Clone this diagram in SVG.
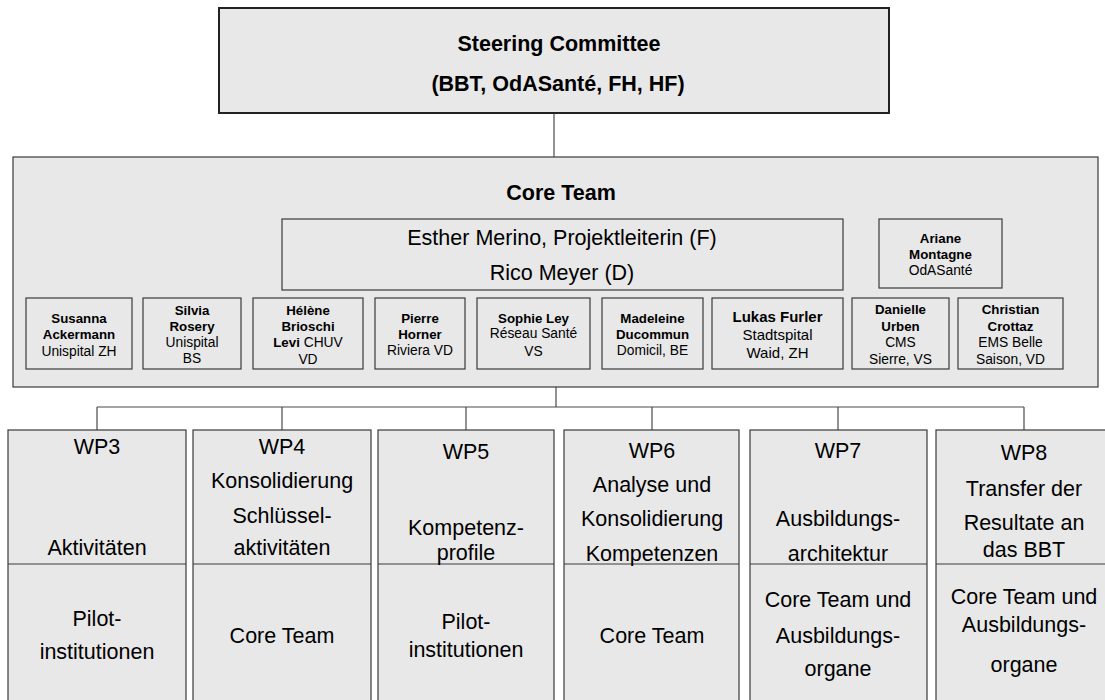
<svg xmlns="http://www.w3.org/2000/svg" width="1105" height="700" viewBox="0 0 1105 700">
<style>
  .box { fill: #e8e8e8; stroke: #3a3a3a; stroke-width: 1.2; }
  .top { fill: #e8e8e8; stroke: #222; stroke-width: 2; }
  .div { stroke: #3a3a3a; stroke-width: 1.2; fill: none; }
  .con { stroke: #4a4a4a; stroke-width: 1.2; fill: none; }
  text { font-family: "Liberation Sans", Arial, sans-serif; fill: #000; text-anchor: middle; }
  .big { font-size: 21.5px; }
  .bigb { font-size: 21.5px; font-weight: bold; }
  .sm { font-size: 13.8px; }
  .smb { font-size: 13.3px; font-weight: bold; }
  .b { font-weight: bold; }
</style>
<rect width="1105" height="700" fill="#ffffff"/>
<g id="connectors">
  <path class="con" d="M554 113 V157"/>
  <path class="con" d="M556 387 V407"/>
  <path class="con" d="M97 407 H1024"/>
  <path class="con" d="M97 407 V430 M282 407 V430 M466 407 V430 M652 407 V430 M838 407 V430 M1024 407 V430"/>
</g>
<g id="steering">
  <rect class="top" x="219" y="8" width="670" height="105"/>
  <text class="bigb" x="559" y="51">Steering Committee</text>
  <text class="bigb" x="558" y="91">(BBT, OdASanté, FH, HF)</text>
</g>
<g id="core-team">
  <rect class="box" x="13" y="157" width="1085" height="230"/>
  <text class="bigb" x="561" y="200">Core Team</text>
</g>
<g id="leitung">
  <rect class="box" x="282" y="219" width="561" height="71"/>
  <text class="big" x="562" y="245">Esther Merino, Projektleiterin (F)</text>
  <text class="big" x="562" y="280">Rico Meyer (D)</text>
</g>
<g id="ariane">
  <rect class="box" x="879" y="219" width="123" height="69"/>
  <text class="smb" x="940.5" y="243">Ariane</text>
  <text class="smb" x="940.5" y="259">Montagne</text>
  <text class="sm" x="940.5" y="275">OdASanté</text>
</g>
<g id="susanna">
  <rect class="box" x="26" y="298" width="106" height="71"/>
  <text class="smb" x="79" y="323">Susanna</text>
  <text class="smb" x="79" y="339">Ackermann</text>
  <text class="sm" x="79" y="356">Unispital ZH</text>
</g>
<g id="silvia">
  <rect class="box" x="143" y="298" width="98" height="71"/>
  <text class="smb" x="192" y="315">Silvia</text>
  <text class="smb" x="192" y="331">Rosery</text>
  <text class="sm" x="192" y="347">Unispital</text>
  <text class="sm" x="192" y="363">BS</text>
</g>
<g id="helene">
  <rect class="box" x="253" y="298" width="110" height="71"/>
  <text class="smb" x="308" y="315">Hélène</text>
  <text class="smb" x="308" y="331">Brioschi</text>
  <text class="sm" x="308" y="347"><tspan class="b" style="font-size:13.3px">Levi</tspan> CHUV</text>
  <text class="sm" x="308" y="364">VD</text>
</g>
<g id="pierre">
  <rect class="box" x="375" y="298" width="90" height="71"/>
  <text class="smb" x="420" y="323">Pierre</text>
  <text class="smb" x="420" y="339">Horner</text>
  <text class="sm" x="420" y="355">Riviera VD</text>
</g>
<g id="sophie">
  <rect class="box" x="477" y="298" width="113" height="71"/>
  <text class="smb" x="533.5" y="323">Sophie Ley</text>
  <text class="sm" x="533.5" y="338">Réseau Santé</text>
  <text class="sm" x="533.5" y="356">VS</text>
</g>
<g id="madeleine">
  <rect class="box" x="602" y="298" width="101" height="71"/>
  <text class="smb" x="652.5" y="323">Madeleine</text>
  <text class="smb" x="652.5" y="339">Ducommun</text>
  <text class="sm" x="652.5" y="355">Domicil, BE</text>
</g>
<g id="lukas">
  <rect class="box" x="712" y="298" width="131" height="71"/>
  <text class="b" style="font-size:15px" x="777.5" y="322">Lukas Furler</text>
  <text style="font-size:15px" x="777.5" y="340">Stadtspital</text>
  <text style="font-size:15px" x="777.5" y="358">Waid, ZH</text>
</g>
<g id="danielle">
  <rect class="box" x="852" y="298" width="97" height="71"/>
  <text class="smb" x="900.5" y="314">Danielle</text>
  <text class="smb" x="900.5" y="331">Urben</text>
  <text class="sm" x="900.5" y="347">CMS</text>
  <text class="sm" x="900.5" y="364">Sierre, VS</text>
</g>
<g id="christian">
  <rect class="box" x="958" y="298" width="105" height="71"/>
  <text class="smb" x="1010.5" y="314">Christian</text>
  <text class="smb" x="1010.5" y="331">Crottaz</text>
  <text class="sm" x="1010.5" y="347">EMS Belle</text>
  <text class="sm" x="1010.5" y="364">Saison, VD</text>
</g>
<g id="wp3">
  <rect class="box" x="8" y="430" width="178" height="290"/>
  <path class="div" d="M8 564 H186"/>
  <text class="big" x="97" y="454">WP3</text>
  <text class="big" x="97" y="555">Aktivitäten</text>
  <text class="big" x="97" y="626">Pilot-</text>
  <text class="big" x="97" y="659">institutionen</text>
</g>
<g id="wp4">
  <rect class="box" x="193" y="430" width="178" height="290"/>
  <path class="div" d="M193 564 H371"/>
  <text class="big" x="282" y="454">WP4</text>
  <text class="big" x="282" y="488">Konsolidierung</text>
  <text class="big" x="282" y="523">Schlüssel-</text>
  <text class="big" x="282" y="555">aktivitäten</text>
  <text class="big" x="282" y="643">Core Team</text>
</g>
<g id="wp5">
  <rect class="box" x="378" y="430" width="176" height="290"/>
  <path class="div" d="M378 564 H554"/>
  <text class="big" x="466" y="459">WP5</text>
  <text class="big" x="466" y="535">Kompetenz-</text>
  <text class="big" x="466" y="560">profile</text>
  <text class="big" x="466" y="629">Pilot-</text>
  <text class="big" x="466" y="657">institutionen</text>
</g>
<g id="wp6">
  <rect class="box" x="564" y="430" width="175" height="290"/>
  <path class="div" d="M564 564 H739"/>
  <text class="big" x="652" y="458">WP6</text>
  <text class="big" x="652" y="492">Analyse und</text>
  <text class="big" x="652" y="526">Konsolidierung</text>
  <text class="big" x="652" y="561">Kompetenzen</text>
  <text class="big" x="652" y="643">Core Team</text>
</g>
<g id="wp7">
  <rect class="box" x="750" y="430" width="177" height="290"/>
  <path class="div" d="M750 564 H927"/>
  <text class="big" x="838" y="458">WP7</text>
  <text class="big" x="838" y="526">Ausbildungs-</text>
  <text class="big" x="838" y="561">architektur</text>
  <text class="big" x="838" y="607">Core Team und</text>
  <text class="big" x="838" y="643">Ausbildungs-</text>
  <text class="big" x="838" y="676">organe</text>
</g>
<g id="wp8">
  <rect class="box" x="936" y="430" width="177" height="290"/>
  <path class="div" d="M936 564 H1113"/>
  <text class="big" x="1024" y="460">WP8</text>
  <text class="big" x="1024" y="496">Transfer der</text>
  <text class="big" x="1024" y="530">Resultate an</text>
  <text class="big" x="1024" y="557">das BBT</text>
  <text class="big" x="1024" y="604">Core Team und</text>
  <text class="big" x="1024" y="632">Ausbildungs-</text>
  <text class="big" x="1024" y="672">organe</text>
</g>
</svg>
